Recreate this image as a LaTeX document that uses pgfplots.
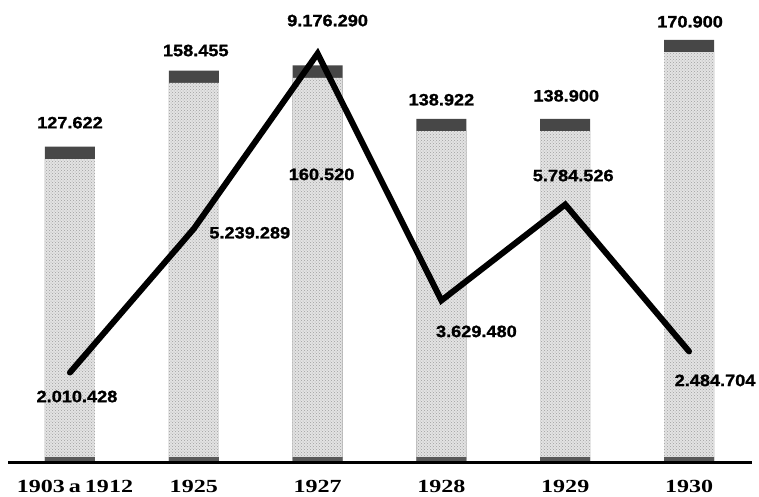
\documentclass[border=0pt]{standalone}
\usepackage{fontspec}
\usepackage{pgfplots}
\usepackage{pgfplotstable}
\usetikzlibrary{patterns}
\pgfplotsset{compat=1.18}
\setmainfont{Liberation Serif}
\newfontfamily\labfont[FakeStretch=1.1, FakeBold=1.2]{Liberation Sans}
\newfontfamily\yearfont[FakeStretch=1.3]{Liberation Serif}

% bars: value, label, label offsets (pt)
\pgfplotstableread{
x v lab dx dy
0 127622 127.622 0 24
1 158455 158.455 2 20
2 160520 160.520 4 -109
3 138922 138.922 0 19
4 138900 138.900 1 23
5 170900 170.900 1 18
}\bars

% line: value, label, label offsets (pt)
\pgfplotstableread{
x v lab dx dy
0 2010428 2.010.428 7 -24
1 5239289 5.239.289 56 -4
2 9176290 9.176.290 10 33
3 3629480 3.629.480 35 -31
4 5784526 5.784.526 8 29
5 2484704 2.484.704 26 -29
}\line

\begin{document}
\begin{tikzpicture}
\pgfplotsset{
  base/.style={
    scale only axis, width=759pt, height=462pt,
    xmin=-0.565, xmax=5.565, ymin=0,
    axis line style={draw=none}, clip=false,
    xtick=\empty, ytick=\empty,
  },
  vallab/.style={
    nodes near coords, point meta=explicit symbolic,
    visualization depends on={\thisrow{dx} \as \dx},
    visualization depends on={\thisrow{dy} \as \dy},
    every node near coord/.append style={anchor=center, xshift=\dx pt, yshift=\dy pt,
      font=\labfont\bfseries\fontsize{16.5}{18}\selectfont, text=black},
  },
}
\begin{axis}[base, ymax=187000,
    ybar, bar width=50pt, bar shift=0pt,
  ]
  \addplot[draw=none, fill=black!72, vallab] table[x=x, y=v, meta=lab] {\bars};
  \addplot[draw=none, fill=gray!22, postaction={pattern=crosshatch dots, pattern color=gray!75}]
    table[x=x, y expr=\thisrow{v}-5000] {\bars};
  \addplot[draw=none, fill=black!65] table[x=x, y expr=2000] {\bars};
  \draw[line width=3pt] (axis cs:-0.5,0) -- (axis cs:5.51,0);
\end{axis}
\begin{axis}[base, ymax=10380000]
  \addplot[black, line width=6pt, line cap=round, line join=miter, mark=none, vallab]
    table[x=x, y=v, meta=lab] {\line};
\end{axis}
\begin{axis}[base, ymax=1,
    xtick={0,...,5},
    xticklabels={\hspace{10pt}1903\hspace{4pt}a\hspace{4pt}1912,1925,1927,1928,1929,1930},
    major tick length=0pt,
    xticklabel style={anchor=center, yshift=-24pt,
      font=\yearfont\bfseries\fontsize{18.5}{21}\selectfont},
  ]
  \addplot[draw=none] coordinates {(0,0)};
\end{axis}
\pgfresetboundingbox
\path[use as bounding box] (0pt,-34pt) rectangle (759pt,462pt);
\end{tikzpicture}
\end{document}
